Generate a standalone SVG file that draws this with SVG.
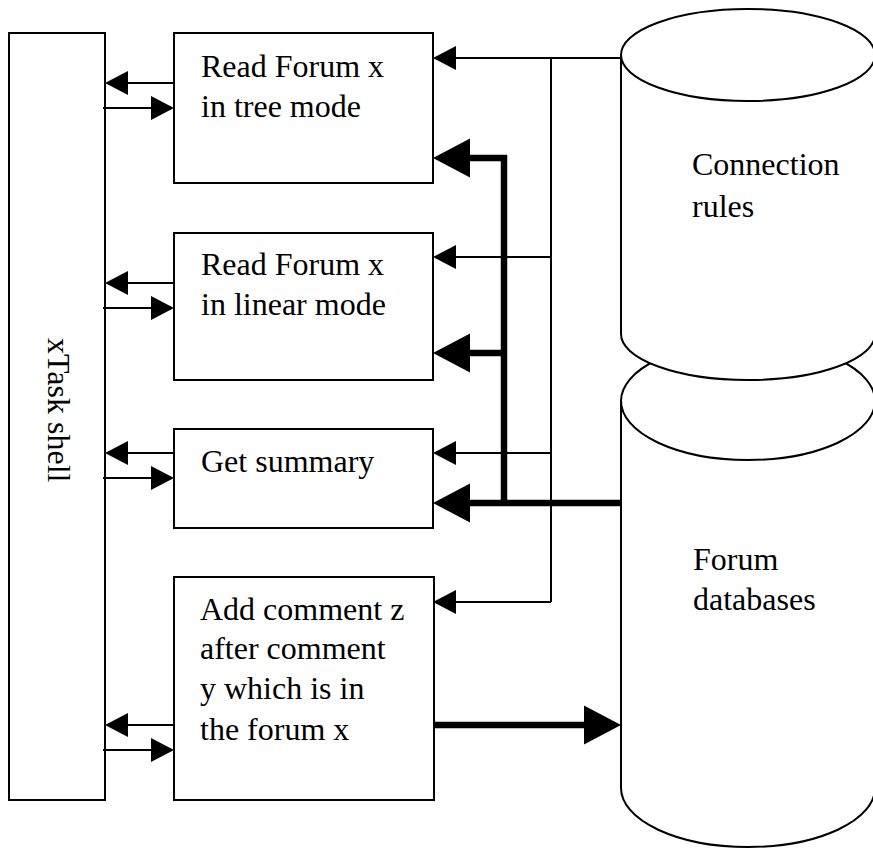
<svg xmlns="http://www.w3.org/2000/svg" width="873" height="849" viewBox="0 0 873 849">
  <style>
    .box { fill: #fff; stroke: #000; stroke-width: 2; }
    .can { fill: #fff; stroke: #000; stroke-width: 2; stroke-linejoin: round; }
    text { font-family: "Liberation Serif", "Times New Roman", serif; font-size: 32px; fill: #000; }
    .thin { fill: none; stroke: #000; stroke-width: 2; }
    .thin-a { fill: none; stroke: #000; stroke-width: 2; marker-end: url(#headThin); }
    .thick-a { fill: none; stroke: #000; stroke-width: 6.5; marker-end: url(#headThick); }
    .thick { fill: none; stroke: #000; stroke-width: 6.5; }
  </style>
  <defs>
    <marker id="headThin" markerUnits="userSpaceOnUse" markerWidth="24" markerHeight="26" refX="0" refY="12" orient="auto" overflow="visible">
      <path d="M0,0 L23,12 L0,24 Z" fill="#000"/>
    </marker>
    <marker id="headThick" markerUnits="userSpaceOnUse" markerWidth="38" markerHeight="40" refX="0" refY="19.5" orient="auto" overflow="visible">
      <path d="M0,0 L37,19.5 L0,39 Z" fill="#000"/>
    </marker>
  </defs>

  <rect width="873" height="849" fill="#fff"/>

  <!-- Forum databases (lower cylinder, drawn first) -->
  <g id="forum-databases">
    <path class="can" d="M621,401 A127,59 0 0 1 875,401 L875,788 A127,59 0 0 1 621,788 Z"/>
    <path class="can" d="M621,401 A127,59 0 0 0 875,401"/>
    <text x="693" y="570">Forum</text>
    <text x="693" y="610">databases</text>
  </g>

  <!-- Connection rules (upper cylinder, overlaps the lower one) -->
  <g id="connection-rules">
    <path class="can" d="M621,55 A127,46 0 0 1 875,55 L875,334 A127,46 0 0 1 621,334 Z"/>
    <path class="can" d="M621,55 A127,46 0 0 0 875,55"/>
    <text x="692" y="175">Connection</text>
    <text x="692" y="217">rules</text>
  </g>

  <!-- xTask shell -->
  <g id="xtask-shell">
    <rect class="box" x="9" y="33" width="96" height="767"/>
    <text transform="translate(48,338) rotate(90)">xTask shell</text>
  </g>

  <g id="read-tree">
    <rect class="box" x="174" y="33" width="259" height="150"/>
    <text x="201" y="77">Read Forum x</text>
    <text x="201" y="117">in tree mode</text>
  </g>

  <g id="read-linear">
    <rect class="box" x="174" y="233" width="259" height="147"/>
    <text x="201" y="275">Read Forum x</text>
    <text x="201" y="315">in linear mode</text>
  </g>

  <g id="get-summary">
    <rect class="box" x="174" y="429" width="259" height="99"/>
    <text x="201" y="472">Get summary</text>
  </g>

  <g id="add-comment">
    <rect class="box" x="174" y="577" width="260" height="223"/>
    <text x="200" y="620">Add comment z</text>
    <text x="200" y="659">after comment</text>
    <text x="200" y="699">y which is in</text>
    <text x="200" y="740">the forum x</text>
  </g>

  <g id="connectors">
    <!-- shell <-> task boxes -->
    <path class="thin-a" d="M174,83 H128"/>
    <path class="thin-a" d="M103,108 H151"/>
    <path class="thin-a" d="M174,283 H128"/>
    <path class="thin-a" d="M103,308 H151"/>
    <path class="thin-a" d="M174,453 H128"/>
    <path class="thin-a" d="M103,478 H151"/>
    <path class="thin-a" d="M174,725 H128"/>
    <path class="thin-a" d="M103,750 H151"/>

    <!-- connection rules bus -->
    <path class="thin-a" d="M621,58 H456"/>
    <path class="thin" d="M551,58 V602"/>
    <path class="thin-a" d="M551,257 H456"/>
    <path class="thin-a" d="M551,453 H456"/>
    <path class="thin-a" d="M551,602 H456"/>

    <!-- forum database bus -->
    <path class="thick" d="M504,155 V506"/>
    <path class="thick-a" d="M507,158 H470"/>
    <path class="thick-a" d="M507,353 H470"/>
    <path class="thick-a" d="M621,503 H470"/>
    <path class="thick-a" d="M434,725 H584"/>
  </g>
</svg>
